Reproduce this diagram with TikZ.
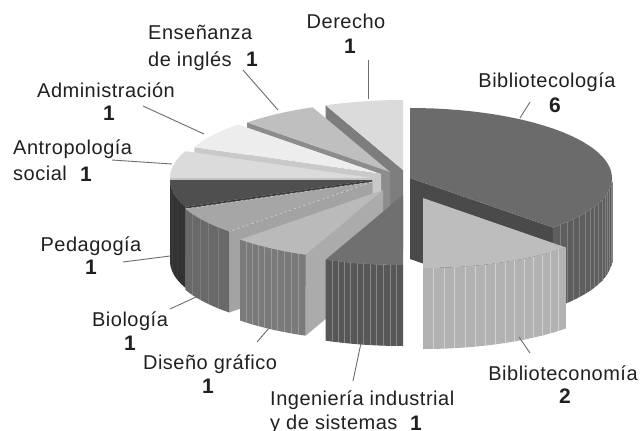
\documentclass[tikz,border=0pt]{standalone}
\usepackage{fontspec}
\setmainfont{Liberation Sans}[LetterSpace=2.5]
\definecolor{txtc}{HTML}{231F20}
\definecolor{leadc}{HTML}{6D6D6F}
\def\RX{202}\def\RY{70}\def\H{81}
% top face: ax ay a1 a2 colour
\newcommand\TopFace[5]{%
  \fill[#5] (#1,#2) -- plot[domain=#3:#4,samples=40] ({#1+\RX*cos(\x)},{#2-\RY*sin(\x)}) -- cycle;}
% radial face: ax ay angle colour
\newcommand\RadFace[4]{%
  \fill[#4] (#1,#2) -- ({#1+\RX*cos(#3)},{#2-\RY*sin(#3)}) -- ++(0,\H) -- (#1,{#2+\H}) -- cycle;}
% outer side: ax ay b1 b2 colour stripecolour nstripes
\newcommand\OuterSide[7]{%
  \fill[#5] plot[domain=#3:#4,samples=40] ({#1+\RX*cos(\x)},{#2-\RY*sin(\x)})
    -- plot[domain=#4:#3,samples=40] ({#1+\RX*cos(\x)},{#2-\RY*sin(\x)+\H}) -- cycle;
  \foreach \k in {1,...,#7}{
    \draw[#6, line width=0.45pt] ({#1+\RX*cos(#3+(#4-#3)*\k/(#7+1))},{#2-\RY*sin(#3+(#4-#3)*\k/(#7+1))}) -- ++(0,\H);}}
\begin{document}
\begin{tikzpicture}[x=1pt,y=-1pt,
  lbl/.style={font=\fontsize{20}{24}\selectfont, text=txtc, inner sep=0pt},
  num/.style={font=\fontsize{21}{24}\selectfont\bfseries, text=txtc, inner sep=0pt},
  leader/.style={draw=leadc, line width=0.9pt}]
\useasboundingbox (0,0) rectangle (643,431);
\fill[white] (0,0) rectangle (643,431);

% Derecho
\RadFace{403}{170}{112.5}{fill=black!51}
\TopFace{403}{170}{90}{112.5}{fill=black!14}
% Ensenanza
\RadFace{390}{172}{135}{fill=black!45}
\TopFace{390}{172}{112.5}{135}{fill=black!25}
% Administracion
\RadFace{381}{174}{157.5}{fill=black!21}
\TopFace{381}{174}{135}{157.5}{fill=black!7}
% Antropologia
\RadFace{372}{178}{180}{fill=black!24}
\TopFace{372}{178}{157.5}{180}{fill=black!14}
% Bibliotecologia
\RadFace{410}{178}{-45}{fill=black!71}
\OuterSide{410}{178}{-45}{0}{fill=black!63}{black!50}{14}
\TopFace{410}{178}{-45}{90}{fill=black!58}
% Pedagogia
\RadFace{372}{180}{-157.5}{fill=black!76}
\OuterSide{372}{180}{-180}{-157.5}{fill=black!80}{black!77}{2}
\TopFace{372}{180}{-180}{-157.5}{fill=black!69}
% Biologia
\RadFace{372}{182}{-135}{fill=black!36}
\OuterSide{372}{182}{-157.5}{-135}{fill=black!59}{black!51}{4}
\TopFace{372}{182}{-157.5}{-135}{fill=black!35}
\draw[white!85!black, densely dashed, line width=0.5pt] (372,182) -- ({372+\RX*cos(-157.5)},{182-\RY*sin(-157.5)});
\draw[white!85!black, densely dashed, line width=0.5pt] (372,182) -- ({372+\RX*cos(-135)},{182-\RY*sin(-135)});
% Diseno grafico
\RadFace{383}{190}{-112.5}{fill=black!33}
\OuterSide{383}{190}{-135}{-112.5}{fill=black!52}{black!40}{9}
\TopFace{383}{190}{-135}{-112.5}{fill=black!27}
% Ingenieria
\OuterSide{403}{195}{-112.5}{-90}{fill=black!66}{black!47}{11}
\TopFace{403}{195}{-112.5}{-90}{fill=black!56}
% Biblioteconomia
\OuterSide{423}{198}{-90}{-45}{fill=black!30}{black!18}{14}
\TopFace{423}{198}{-90}{-45}{fill=black!26}

% leader lines
\coordinate (derA) at (368,60);  \coordinate (derB) at (368,99);
\coordinate (ensA) at (243,70);  \coordinate (ensB) at (278,110);
\coordinate (admA) at (143,106); \coordinate (admB) at (204,134);
\coordinate (antA) at (112,160); \coordinate (antB) at (172,164);
\coordinate (pedA) at (123,262); \coordinate (pedB) at (170,256);
\coordinate (bioA) at (170,309); \coordinate (bioB) at (196,297);
\coordinate (disA) at (257,342); \coordinate (disB) at (270,327);
\coordinate (ingA) at (353,381); \coordinate (ingB) at (361,343);
\coordinate (bnA) at (530,353);  \coordinate (bnB) at (519,337);
\coordinate (blA) at (520,118);  \coordinate (blB) at (530,102);
\draw[leader] (derA) -- (derB);
\draw[leader] (ensA) -- (ensB);
\draw[leader] (admA) -- (admB);
\draw[leader] (antA) -- (antB);
\draw[leader] (pedA) -- (pedB);
\draw[leader] (bioA) -- (bioB);
\draw[leader] (disA) -- (disB);
\draw[leader] (ingA) -- (ingB);
\draw[leader] (bnA) -- (bnB);
\draw[leader] (blA) -- (blB);

% labels
\node[lbl, anchor=base] (derT) at (346,28) {Derecho};
\node[num, anchor=base] (derN) at (350,53) {1};
\node[lbl, anchor=base west] (ensT) at (148,39) {Enseñanza};
\node[lbl, anchor=base west] (ensT2) at (148,66) {de inglés};
\node[num, anchor=base west] (ensN) at (246,66) {1};
\node[lbl, anchor=base] (admT) at (106,97) {Administración};
\node[num, anchor=base] (admN) at (109,120) {1};
\node[lbl, anchor=base west] (antT) at (13,154) {Antropología};
\node[lbl, anchor=base west] (antT2) at (13,180) {social};
\node[num, anchor=base west] (antN) at (80,181) {1};
\node[lbl, anchor=base] (pedT) at (91,251) {Pedagogía};
\node[num, anchor=base] (pedN) at (91,274) {1};
\node[lbl, anchor=base] (bioT) at (130,326) {Biología};
\node[num, anchor=base] (bioN) at (130,350) {1};
\node[lbl, anchor=base] (disT) at (210,369) {Diseño gráfico};
\node[num, anchor=base] (disN) at (208,393) {1};
\node[lbl, anchor=base west] (ingT) at (270,405) {Ingeniería industrial};
\node[lbl, anchor=base west] (ingT2) at (270,429) {y de sistemas};
\node[num, anchor=base west] (ingN) at (410,430) {1};
\node[lbl, anchor=base] (blT) at (547,87) {Bibliotecología};
\node[num, anchor=base] (blN) at (555,112) {6};
\node[lbl, anchor=base] (bnT) at (563,380) {Biblioteconomía};
\node[num, anchor=base] (bnN) at (565,403) {2};
\end{tikzpicture}
\end{document}
